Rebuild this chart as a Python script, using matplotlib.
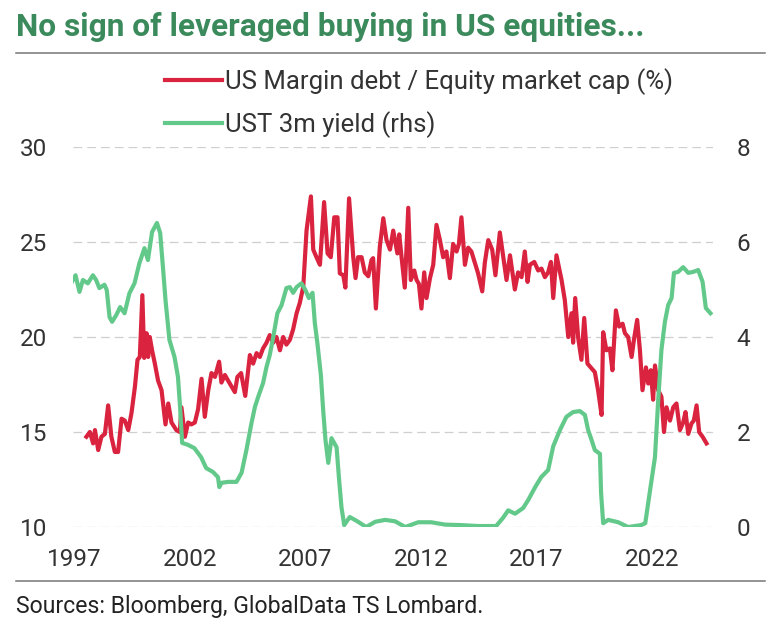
import matplotlib
matplotlib.use('Agg')
import matplotlib.pyplot as plt

plt.rcParams['font.family'] = ['Roboto', 'DejaVu Sans']

# US margin debt / equity market cap (%)
margin_years = [1997.53, 1997.68, 1997.82, 1997.90, 1998.04, 1998.18, 1998.33, 1998.47, 1998.61,
                1998.76, 1998.90, 1999.05, 1999.19, 1999.34, 1999.48, 1999.63, 1999.74, 1999.84,
                1999.95, 2000.03, 2000.13, 2000.20, 2000.27, 2000.37, 2000.49, 2000.63, 2000.78,
                2000.95, 2001.07, 2001.21, 2001.42, 2001.57, 2001.64, 2001.79, 2001.93, 2002.07,
                2002.22, 2002.36, 2002.51, 2002.65, 2002.80, 2002.94, 2003.09, 2003.27, 2003.37,
                2003.52, 2003.66, 2003.95, 2004.06, 2004.22, 2004.40, 2004.60, 2004.74, 2004.89,
                2005.03, 2005.17, 2005.32, 2005.46, 2005.61, 2005.75, 2005.90, 2006.04, 2006.18,
                2006.33, 2006.47, 2006.62, 2006.76, 2006.91, 2007.05, 2007.24, 2007.34, 2007.48,
                2007.63, 2007.81, 2007.96, 2008.10, 2008.25, 2008.39, 2008.49, 2008.64, 2008.73,
                2008.89, 2009.07, 2009.17, 2009.28, 2009.43, 2009.57, 2009.72, 2009.86, 2009.93,
                2010.05, 2010.22, 2010.37, 2010.51, 2010.66, 2010.80, 2010.98, 2011.06, 2011.16,
                2011.30, 2011.45, 2011.56, 2011.71, 2011.81, 2011.91, 2012.02, 2012.14, 2012.24,
                2012.39, 2012.53, 2012.67, 2012.82, 2012.96, 2013.10, 2013.25, 2013.39, 2013.54,
                2013.64, 2013.75, 2013.90, 2014.04, 2014.18, 2014.33, 2014.47, 2014.65, 2014.76,
                2014.91, 2015.08, 2015.22, 2015.41, 2015.56, 2015.70, 2015.85, 2016.06, 2016.20,
                2016.35, 2016.49, 2016.61, 2016.71, 2016.90, 2017.07, 2017.21, 2017.36, 2017.50,
                2017.62, 2017.72, 2017.86, 2018.08, 2018.22, 2018.37, 2018.51, 2018.58, 2018.67,
                2018.80, 2018.94, 2019.06, 2019.20, 2019.38, 2019.52, 2019.66, 2019.81, 2019.88,
                2020.02, 2020.17, 2020.28, 2020.43, 2020.57, 2020.72, 2020.82, 2020.96, 2021.11,
                2021.21, 2021.35, 2021.47, 2021.58, 2021.73, 2021.83, 2021.94, 2022.04, 2022.12,
                2022.26, 2022.40, 2022.51, 2022.62, 2022.77, 2022.91, 2023.05, 2023.20, 2023.34,
                2023.44, 2023.56, 2023.70, 2023.80, 2023.92, 2024.03, 2024.18, 2024.35]
margin_debt = [14.75, 15.0, 14.4, 15.1, 14.05, 14.75, 14.9, 16.4, 14.75,
               13.95, 13.95, 15.7, 15.6, 15.1, 16.0, 17.4, 18.8, 18.95,
               22.2, 18.9, 20.2, 18.95, 20.0, 19.3, 18.6, 17.7, 17.2,
               15.4, 16.5, 15.5, 15.1, 15.0, 16.3, 14.75, 15.5, 15.4,
               15.5, 16.2, 17.8, 15.8, 17.2, 18.1, 17.9, 18.7, 17.6,
               18.0, 17.7, 17.1, 17.9, 18.1, 16.9, 19.05, 18.6, 19.15,
               18.95, 19.4, 19.7, 20.1, 19.7, 20.0, 19.3, 20.0, 19.6,
               19.85, 20.4, 21.25, 21.8, 22.65, 25.6, 27.4, 24.6, 24.2,
               23.8, 27.1, 24.4, 24.2, 26.3, 26.3, 23.35, 23.25, 22.6,
               27.3, 24.2, 23.1, 24.2, 24.2, 23.4, 23.2, 24.05, 24.15,
               21.5, 24.75, 26.25, 25.1, 24.6, 25.6, 24.4, 25.4, 24.2,
               22.6, 26.8, 23.0, 23.5, 23.0, 22.8, 21.5, 23.4, 22.05,
               23.1, 23.8, 25.9, 25.1, 24.2, 24.5, 23.1, 24.9, 24.5,
               24.9, 26.3, 23.8, 24.7, 24.5, 23.9, 23.35, 22.4, 23.9,
               25.1, 24.6, 23.25, 25.5, 24.2, 23.0, 24.3, 22.5, 23.4,
               23.15, 24.5, 22.9, 23.8, 23.95, 23.5, 23.6, 23.15, 23.4,
               23.95, 22.05, 24.3, 23.0, 21.95, 20.0, 21.25, 19.7, 22.05,
               19.95, 18.8, 21.0, 18.6, 18.35, 18.15, 17.2, 15.9, 20.25,
               19.3, 19.4, 18.25, 21.4, 20.55, 20.7, 20.2, 20.0, 18.95,
               19.85, 20.9, 19.3, 17.2, 18.4, 17.55, 18.25, 16.7, 18.5,
               17.2, 16.85, 15.0, 16.3, 15.6, 16.3, 16.5, 15.1, 15.5,
               16.05, 14.9, 15.45, 15.6, 16.4, 15.0, 14.75, 14.4]

# UST 3m yield (rhs)
yield_years = [1996.87, 1997.06, 1997.23, 1997.38, 1997.59, 1997.81, 1997.95, 1998.09, 1998.31,
               1998.41, 1998.53, 1998.64, 1998.82, 1998.99, 1999.18, 1999.39, 1999.61, 1999.82,
               2000.04, 2000.19, 2000.37, 2000.58, 2000.72, 2000.84, 2000.95, 2001.12, 2001.34,
               2001.49, 2001.58, 2001.67, 2001.92, 2002.20, 2002.49, 2002.71, 2003.00, 2003.22,
               2003.28, 2003.37, 2003.66, 2004.02, 2004.24, 2004.45, 2004.67, 2004.82, 2004.96,
               2005.17, 2005.32, 2005.46, 2005.61, 2005.79, 2005.97, 2006.18, 2006.33, 2006.47,
               2006.62, 2006.83, 2007.00, 2007.15, 2007.31, 2007.41, 2007.52, 2007.67, 2007.77,
               2007.87, 2007.99, 2008.13, 2008.35, 2008.45, 2008.56, 2008.68, 2008.92, 2009.14,
               2009.28, 2009.63, 2010.02, 2010.45, 2010.88, 2011.32, 2011.88, 2012.44, 2013.05,
               2013.74, 2014.47, 2015.25, 2015.56, 2015.77, 2016.07, 2016.42, 2016.64, 2016.94,
               2017.20, 2017.50, 2017.72, 2018.01, 2018.29, 2018.58, 2018.87, 2019.09, 2019.23,
               2019.38, 2019.52, 2019.74, 2019.79, 2019.88, 2020.10, 2020.53, 2020.96, 2021.52,
               2021.70, 2021.91, 2022.12, 2022.26, 2022.40, 2022.55, 2022.69, 2022.84, 2022.94,
               2023.12, 2023.34, 2023.56, 2023.77, 2023.99, 2024.18, 2024.32, 2024.52]
ust_3m = [5.13, 5.30, 4.95, 5.20, 5.13, 5.30, 5.20, 5.03, 5.10,
          4.99, 4.42, 4.32, 4.46, 4.63, 4.50, 4.92, 5.13, 5.55,
          5.87, 5.62, 6.21, 6.40, 6.19, 5.47, 4.78, 3.94, 3.58,
          3.16, 2.53, 1.77, 1.73, 1.66, 1.47, 1.24, 1.16, 1.05,
          0.84, 0.93, 0.95, 0.95, 1.14, 1.62, 2.19, 2.53, 2.74,
          3.03, 3.37, 3.62, 4.00, 4.50, 4.67, 5.03, 5.05, 4.93,
          5.05, 5.13, 4.99, 4.82, 4.93, 4.29, 3.87, 3.20, 2.46,
          1.83, 1.35, 1.87, 1.68, 1.05, 0.42, 0.04, 0.21, 0.15,
          0.11, 0.00, 0.11, 0.15, 0.12, 0.00, 0.10, 0.10, 0.05,
          0.04, 0.02, 0.02, 0.20, 0.35, 0.28, 0.40, 0.57, 0.84,
          1.05, 1.20, 1.70, 2.04, 2.32, 2.42, 2.44, 2.36, 2.04,
          1.83, 1.62, 1.54, 0.71, 0.08, 0.15, 0.10, 0.00, 0.04,
          0.08, 0.78, 1.47, 2.67, 3.73, 4.32, 4.67, 4.82, 5.35,
          5.37, 5.47, 5.35, 5.37, 5.41, 5.16, 4.61, 4.50]

year_ticks = [1997, 2002, 2007, 2012, 2017, 2022]
left_ticks = [10, 15, 20, 25, 30]
right_ticks = [0, 2, 4, 6, 8]

red = '#d9233f'
green = '#63c98b'
txt = '#333333'

fig = plt.figure(figsize=(7.75, 6.31), dpi=100)
ax = fig.add_axes([73 / 775, 1 - 527 / 631, 640 / 775, 380 / 631])
ax2 = ax.twinx()

l1, = ax.plot(margin_years, margin_debt, color=red, lw=3.0, solid_joinstyle='round',
              label='US Margin debt / Equity market cap (%)')
l2, = ax2.plot(yield_years, ust_3m, color=green, lw=3.0, solid_joinstyle='round',
               label='UST 3m yield (rhs)')

ax.set_xlim(1996.95, 2024.63)
ax.set_ylim(10, 30)
ax2.set_ylim(0, 8)
ax.set_xticks(year_ticks)
ax.set_yticks(left_ticks)
ax2.set_yticks(right_ticks)

ax.grid(axis='y', color='#cfcfcf', lw=0.9, linestyle=(0, (7, 4)))
ax.grid(axis='x', visible=False)
for a in (ax, ax2):
    for s in a.spines.values():
        s.set_visible(False)
    a.tick_params(length=0, labelsize=17.5, colors=txt)
ax.tick_params(axis='y', pad=18.5)
ax2.tick_params(axis='y', pad=17)
ax.tick_params(axis='x', pad=15)

fig.legend(handles=[l1, l2], loc='upper left', bbox_to_anchor=(165 / 775, 1 - 68 / 631),
           frameon=False, fontsize=18.5, handlelength=2.2, handletextpad=0.15,
           labelspacing=0.62, borderpad=0, borderaxespad=0, labelcolor=txt)

fig.text(16 / 775, 1 - 36 / 631, 'No sign of leveraged buying in US equities...',
         fontsize=22.8, fontweight='bold', color='#3b8a5c', va='baseline')
fig.text(16 / 775, 1 - 613 / 631, 'Sources: Bloomberg, GlobalData TS Lombard.',
         fontsize=16.6, color='#222222', va='baseline')
fig.add_artist(plt.Line2D([16 / 775, 765 / 775], [1 - 52.5 / 631] * 2, color='#777777', lw=1.1))
fig.add_artist(plt.Line2D([16 / 775, 765 / 775], [1 - 581 / 631] * 2, color='#777777', lw=1.1))

fig.savefig('out.png', dpi=100, facecolor='white')
